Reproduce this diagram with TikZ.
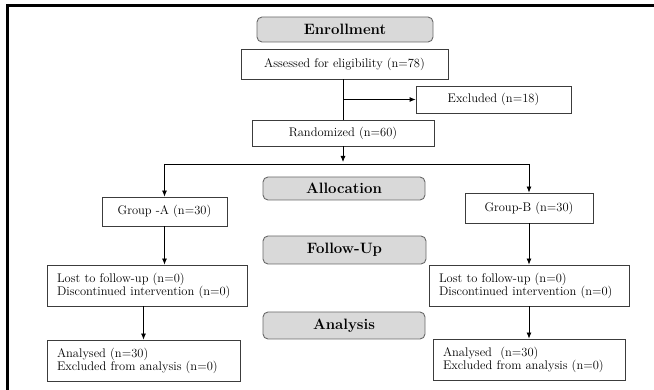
\documentclass[tikz,border=0pt]{standalone}
\usepackage{tikz}
\usepackage{xcolor}
\usetikzlibrary{arrows.meta}

\definecolor{headfill}{RGB}{217,217,217}
\definecolor{headedge}{RGB}{105,105,105}
\definecolor{boxedge}{RGB}{60,60,60}

\tikzset{
  headbox/.style={draw=headedge, fill=headfill, rounded corners=5pt, line width=0.9pt,
    inner sep=0pt, font=\fontsize{15}{16}\selectfont\bfseries},
  infobox/.style={draw=boxedge, line width=0.8pt, inner sep=0pt,
    font=\fontsize{12.5}{13}\selectfont},
  listbox/.style={infobox, align=left, inner xsep=10pt, minimum height=41pt},
  flow/.style={line width=0.8pt, black},
  flowarrow/.style={flow, -{Latex[length=6pt,width=5pt]}},
}

\begin{document}
\begin{tikzpicture}[x=1pt, y=-1pt]
        \useasboundingbox (0,0) rectangle (654,390);

        % Outer frame (only top and left edges show)
        \draw[line width=3pt] (7,390) -- (7,6) -- (654,6);

        % Phase headers
        \node[headbox, minimum width=176pt, minimum height=25pt] (enrol) at (345,29.5) {Enrollment};
        \node[headbox, minimum width=162pt, minimum height=23pt] (alloc) at (344,188.5) {Allocation};
        \node[headbox, minimum width=163pt, minimum height=28pt] (follow) at (344.5,250) {Follow-Up};
        \node[headbox, minimum width=162pt, minimum height=27pt] (analys) at (344,325.5) {Analysis};

        % Enrollment boxes
        \node[infobox, minimum width=207pt, minimum height=30pt] (assess) at (344.5,64) {Assessed for eligibility (n=78)};
        \node[infobox, minimum width=155pt, minimum height=27pt] (excl) at (493.5,99.5) {Excluded (n=18)};
        \node[infobox, minimum width=182pt, minimum height=26pt] (rand) at (343,133) {Randomized (n=60)};

        % Group boxes
        \node[infobox, minimum width=125pt, minimum height=29pt] (grpa) at (164.5,211.5) {Group -A (n=30)};
        \node[infobox, minimum width=128pt, minimum height=30pt] (grpb) at (529,208) {Group-B (n=30)};

        % Follow-up and analysis boxes
        \node[listbox, text width=180pt] (lostl) at (147,285.5) {Lost to follow-up (n=0)\\Discontinued intervention (n=0)};
        \node[listbox, text width=180pt] (lostr) at (529,285.5) {Lost to follow-up (n=0)\\Discontinued intervention (n=0)};
        \node[listbox, text width=173pt] (anal) at (143.5,360.5) {Analysed (n=30)\\Excluded from analysis (n=0)};
        \node[listbox, text width=172pt] (anar) at (529,359.5) {Analysed \ (n=30)\\Excluded from analysis (n=0)};

        % Split point under the randomized box
        \coordinate (fork) at (343,164);

        % Enrollment flow
        \draw[flow] (assess.south -| rand.north) -- (rand.north);
        \draw[flowarrow] (rand.north |- excl.west) -- (excl.west);
        \draw[flowarrow] (rand.south) -- ([yshift=2pt]fork);

        % Allocation branches
        \draw[flow] (grpa.north |- fork) -- (grpb.north |- fork);
        \draw[flowarrow] (grpa.north |- fork) -- (grpa.north);
        \draw[flowarrow] (grpb.north |- fork) -- (grpb.north);

        % Follow-up and analysis
        \draw[flowarrow] (grpa.south) -- (grpa.south |- lostl.north);
        \draw[flowarrow] (grpb.south) -- (grpb.south |- lostr.north);
        \draw[flowarrow] (anal.north |- lostl.south) -- (anal.north);
        \draw[flowarrow] (anar.north |- lostr.south) -- (anar.north);
\end{tikzpicture}
\end{document}
